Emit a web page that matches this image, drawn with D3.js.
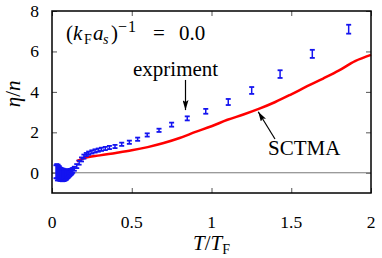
<!DOCTYPE html>
<html>
<head>
<meta charset="utf-8">
<script src="https://cdn.jsdelivr.net/npm/d3@7"></script>
<style>
  body { margin: 0; background: #fff; }
</style>
</head>
<body>
<div id="chart"></div>
<script>
// experiment (T/T_F, eta/n, error)
const expT = [0.025, 0.03, 0.034, 0.038, 0.042, 0.046, 0.05, 0.054, 0.058, 0.062, 0.066, 0.07, 0.074, 0.078,
  0.082, 0.086, 0.09, 0.094, 0.098, 0.102, 0.106, 0.11, 0.114, 0.118, 0.122, 0.126, 0.13,
  0.14, 0.155, 0.17, 0.185, 0.2, 0.215, 0.23, 0.25, 0.27, 0.29, 0.31, 0.334, 0.36, 0.395, 0.437, 0.485,
  0.537, 0.597, 0.671, 0.75, 0.848, 0.964, 1.105, 1.252, 1.43, 1.632, 1.86];
const expEta = [0.05, 0.08, 0.0, 0.05, -0.02, 0.0, -0.08, -0.05, -0.1, -0.08, -0.12, -0.1, -0.13, -0.1,
  -0.12, -0.1, -0.1, -0.08, -0.06, -0.04, -0.02, 0.0, 0.02, 0.04, 0.06, 0.08, 0.12,
  0.2, 0.33, 0.5, 0.66, 0.8, 0.9, 0.97, 1.03, 1.08, 1.12, 1.16, 1.2, 1.25, 1.3, 1.41, 1.51,
  1.66, 1.87, 2.1, 2.38, 2.69, 3.04, 3.5, 4.07, 4.88, 5.88, 7.1];
const expErr = [0.32, 0.35, 0.38, 0.35, 0.35, 0.32, 0.32, 0.3, 0.3, 0.3, 0.3, 0.3, 0.28, 0.28,
  0.26, 0.25, 0.24, 0.22, 0.2, 0.2, 0.18, 0.17, 0.16, 0.15, 0.14, 0.12, 0.12,
  0.1, 0.1, 0.1, 0.1, 0.1, 0.08, 0.08, 0.08, 0.08, 0.08, 0.08, 0.08, 0.08, 0.08, 0.08, 0.08,
  0.08, 0.08, 0.08, 0.1, 0.1, 0.12, 0.15, 0.17, 0.19, 0.2, 0.22];

// SCTMA curve
const sctT = [0.155, 0.2, 0.3, 0.4, 0.5, 0.6, 0.7, 0.8, 0.9, 1.0, 1.1, 1.2, 1.3, 1.4, 1.5, 1.6, 1.7, 1.8, 1.9, 2.0];
const sctEta = [0.57, 0.72, 0.86, 0.98, 1.11, 1.27, 1.47, 1.72, 2.02, 2.3, 2.62, 2.88, 3.17, 3.5, 3.88, 4.28, 4.66, 5.06, 5.52, 5.83];

const xTicks = [0, 0.5, 1, 1.5, 2];
const yTicks = [0, 2, 4, 6, 8];

const width = 382;
const height = 258;
const margin = { top: 11, left: 52, bottom: 65, right: 11 };
const iwidth = width - margin.left - margin.right;
const iheight = height - margin.top - margin.bottom;
const serif = "'Liberation Serif', 'Times New Roman', serif";

const svg = d3.select("#chart").append("svg")
  .attr("width", width)
  .attr("height", height)
  .style("font-family", serif);

const defs = svg.append("defs");
defs.append("marker")
  .attr("id", "arrow")
  .attr("viewBox", "0 0 10 6")
  .attr("refX", 10).attr("refY", 3)
  .attr("markerWidth", 10).attr("markerHeight", 6)
  .attr("markerUnits", "userSpaceOnUse")
  .attr("orient", "auto")
  .append("path")
  .attr("d", "M0,0 L10,3 L0,6 L2,3 Z")
  .attr("fill", "#000");

const g = svg.append("g").attr("transform", `translate(${margin.left},${margin.top})`);

const x = d3.scaleLinear().domain([0, 2]).range([0, iwidth]);
const y = d3.scaleLinear().domain([-1, 8]).range([iheight, 0]);

// ticks (inside, all four sides)
const tickLen = 5;
const tickCol = "#555";
g.append("g").attr("transform", `translate(0,${iheight})`)
  .call(d3.axisBottom(x).tickValues(xTicks).tickSize(-tickLen).tickFormat(""))
  .call(a => { a.select(".domain").remove(); a.selectAll("line").attr("stroke", tickCol); });
g.append("g")
  .call(d3.axisTop(x).tickValues(xTicks).tickSize(-tickLen).tickFormat(""))
  .call(a => { a.select(".domain").remove(); a.selectAll("line").attr("stroke", tickCol); });
g.append("g")
  .call(d3.axisLeft(y).tickValues(yTicks).tickSize(-tickLen).tickFormat(""))
  .call(a => { a.select(".domain").remove(); a.selectAll("line").attr("stroke", tickCol); });
g.append("g").attr("transform", `translate(${iwidth},0)`)
  .call(d3.axisRight(y).tickValues(yTicks).tickSize(-tickLen).tickFormat(""))
  .call(a => { a.select(".domain").remove(); a.selectAll("line").attr("stroke", tickCol); });

// tick labels
g.append("g").selectAll("text").data(xTicks).join("text")
  .attr("x", d => x(d)).attr("y", iheight + 35)
  .attr("text-anchor", "middle")
  .attr("font-size", 17.5)
  .text(d => d);
g.append("g").selectAll("text").data(yTicks).join("text")
  .attr("x", -13).attr("y", d => y(d) + 6)
  .attr("text-anchor", "end")
  .attr("font-size", 17.5)
  .text(d => d);

// zero line
g.append("line")
  .attr("x1", 0).attr("x2", iwidth)
  .attr("y1", y(0)).attr("y2", y(0))
  .attr("stroke", "#777").attr("stroke-width", 1);

// SCTMA line
g.append("path")
  .datum(sctT.map((t, i) => [t, sctEta[i]]))
  .attr("fill", "none")
  .attr("stroke", "#f00")
  .attr("stroke-width", 2.5)
  .attr("d", d3.line().x(d => x(d[0])).y(d => y(d[1])).curve(d3.curveMonotoneX));

// experiment error bars
const blue = "#1414f0";
const pts = expT.map((t, i) => ({ t, v: expEta[i], e: expErr[i] }));
const eb = g.append("g").selectAll("g").data(pts).join("g");
eb.append("line")
  .attr("x1", d => x(d.t)).attr("x2", d => x(d.t))
  .attr("y1", d => y(d.v - d.e)).attr("y2", d => y(d.v + d.e))
  .attr("stroke", blue).attr("stroke-width", 1.5);
eb.append("line")
  .attr("x1", d => x(d.t) - 2.5).attr("x2", d => x(d.t) + 2.5)
  .attr("y1", d => y(d.v - d.e)).attr("y2", d => y(d.v - d.e))
  .attr("stroke", blue).attr("stroke-width", 1.8);
eb.append("line")
  .attr("x1", d => x(d.t) - 2.5).attr("x2", d => x(d.t) + 2.5)
  .attr("y1", d => y(d.v + d.e)).attr("y2", d => y(d.v + d.e))
  .attr("stroke", blue).attr("stroke-width", 1.8);

// frame
g.append("rect")
  .attr("width", iwidth).attr("height", iheight)
  .attr("fill", "none").attr("stroke", "#000").attr("stroke-width", 1.5);

// (k_F a_s)^-1 = 0.0, pieces placed like the TeX layout
const note = svg.append("text").attr("y", 40).attr("font-size", 21);
note.append("tspan").attr("x", 66).text("(");
note.append("tspan").attr("x", 73).attr("font-style", "italic").text("k");
note.append("tspan").attr("x", 84).attr("font-size", 14).attr("dy", 4).text("F");
note.append("tspan").attr("x", 93).attr("font-style", "italic").attr("dy", -4).text("a");
note.append("tspan").attr("x", 103).attr("font-style", "italic").attr("font-size", 14).attr("dy", 4).text("s");
note.append("tspan").attr("x", 111).attr("dy", -4).text(")");
note.append("tspan").attr("x", 118).attr("font-size", 16).attr("dy", -8).text("\u2212");
note.append("tspan").attr("x", 128).attr("font-size", 16).text("1");
note.append("tspan").attr("x", 153).attr("dy", 8).text("=");
note.append("tspan").attr("x", 179).text("0.0");

g.append("text").attr("x", 81).attr("y", 65).attr("font-size", 21).text("expriment");
g.append("line")
  .attr("x1", x(0.837)).attr("x2", x(0.837))
  .attr("y1", y(4.59)).attr("y2", y(3.1))
  .attr("stroke", "#000").attr("stroke-width", 1.2)
  .attr("marker-end", "url(#arrow)");

g.append("text").attr("x", 216).attr("y", 144).attr("font-size", 21).text("SCTMA");
g.append("line")
  .attr("x1", x(1.398)).attr("x2", x(1.293))
  .attr("y1", y(1.67)).attr("y2", y(3.02))
  .attr("stroke", "#000").attr("stroke-width", 1.2)
  .attr("marker-end", "url(#arrow)");

// axis labels
const xl = svg.append("text")
  .attr("x", margin.left + x(1)).attr("y", 250)
  .attr("text-anchor", "middle").attr("font-size", 21);
xl.append("tspan").attr("font-style", "italic").text("T");
xl.append("tspan").text("/");
xl.append("tspan").attr("font-style", "italic").text("T");
xl.append("tspan").attr("font-size", 14).attr("dy", 4).text("F");

const yl = svg.append("text")
  .attr("transform", `translate(20,${margin.top + y(3.9)}) rotate(-90)`)
  .attr("text-anchor", "middle").attr("font-size", 21);
yl.append("tspan").attr("font-style", "italic").text("\u03b7");
yl.append("tspan").text("/");
yl.append("tspan").attr("font-style", "italic").text("n");
</script>
</body>
</html>
